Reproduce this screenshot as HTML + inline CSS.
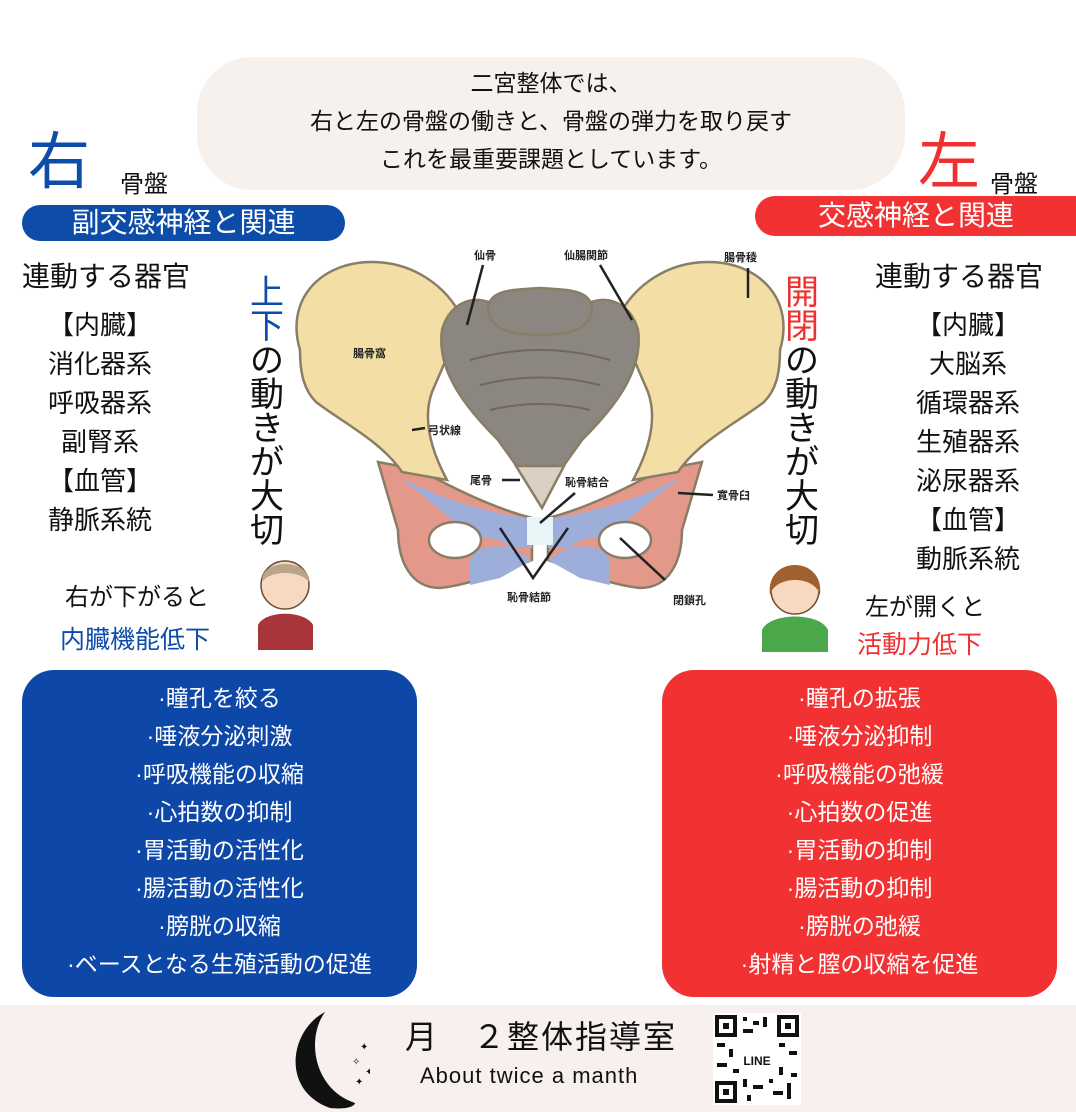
<!DOCTYPE html>
<html><head><meta charset="utf-8">
<style>
*{margin:0;padding:0;box-sizing:border-box}
body{width:1076px;height:1112px;background:#fff;position:relative;overflow:hidden;font-family:"Liberation Sans","Noto Sans CJK JP",sans-serif;color:#111}
.a{position:absolute;white-space:nowrap}
.bubble{position:absolute;left:197px;top:57px;width:708px;height:133px;background:#f7f1ee;border-radius:55px;text-align:center;font-size:23px;line-height:38px;padding-top:7px}
.pill{position:absolute;height:36px;border-radius:18px;color:#fff;font-size:28px;line-height:36px;text-align:center}
.list{position:absolute;text-align:center;font-size:26px;line-height:39px}
.vert{position:absolute;font-size:34px;line-height:34px;width:40px;text-align:center}
.box{position:absolute;top:670px;width:395px;height:327px;border-radius:32px;color:#fff;text-align:center;font-size:23px;line-height:38px;padding-top:9px}
.blue{color:#0d4ca8}.red{color:#ee3030}
</style></head><body>
<div class="bubble">二宮整体では、<br>右と左の骨盤の働きと、骨盤の弾力を取り戻す<br>これを最重要課題としています。</div>

<div class="a blue" style="left:28px;top:128px;font-size:62px;line-height:70px">右</div>
<div class="a" style="left:120px;top:164px;font-size:24px">骨盤</div>
<div class="pill" style="left:22px;top:205px;width:323px;background:#0d4ca8">副交感神経と関連</div>
<div class="a" style="left:22px;top:255px;font-size:28px">連動する器官</div>
<div class="list" style="left:20px;top:306px;width:160px">【内臓】<br>消化器系<br>呼吸器系<br>副腎系<br>【血管】<br>静脈系統</div>
<div class="vert" style="left:247px;top:276px"><span class="blue">上<br>下</span><br>の<br>動<br>き<br>が<br>大<br>切</div>

<div class="a red" style="left:918px;top:128px;font-size:62px;line-height:70px">左</div>
<div class="a" style="left:990px;top:164px;font-size:24px">骨盤</div>
<div class="pill" style="left:755px;top:196px;width:340px;background:#f23232;height:40px;line-height:40px;border-radius:20px;padding-right:18px">交感神経と関連</div>
<div class="a" style="left:875px;top:255px;font-size:28px">連動する器官</div>
<div class="list" style="left:888px;top:306px;width:160px">【内臓】<br>大脳系<br>循環器系<br>生殖器系<br>泌尿器系<br>【血管】<br>動脈系統</div>
<div class="vert" style="left:782px;top:276px"><span class="red">開<br>閉</span><br>の<br>動<br>き<br>が<br>大<br>切</div>

<div class="a" style="left:65px;top:577px;font-size:24px">右が下がると</div>
<div class="a blue" style="left:60px;top:620px;font-size:25px">内臓機能低下</div>
<div class="a" style="left:865px;top:587px;font-size:24px">左が開くと</div>
<div class="a red" style="left:857px;top:625px;font-size:25px">活動力低下</div>

<svg class="a" style="left:0;top:0" width="1076" height="1112" viewBox="0 0 1076 1112">
<g stroke="#8a7d66" stroke-width="2.5">
<path d="M378,462 L420,470 C460,492 500,510 532,518 L532,560 C500,572 470,585 440,588 C410,588 398,560 398,530 Z" fill="#e3988a"/>
<path d="M702,462 L660,470 C620,492 580,510 548,518 L548,560 C580,572 610,585 640,588 C670,588 682,560 682,530 Z" fill="#e3988a"/>
<path d="M400,480 C440,500 490,515 532,518 L532,548 C505,548 480,540 470,560 L470,585 L500,578 L532,560" fill="#9eaedb" stroke="none"/>
<path d="M680,480 C640,500 590,515 548,518 L548,548 C575,548 600,540 610,560 L610,585 L580,578 L548,560" fill="#9eaedb" stroke="none"/>
<path d="M402,478 C440,500 490,512 532,520 L532,545 L470,535 Z" fill="#9eaedb" stroke="none"/>
<path d="M678,478 C640,500 590,512 548,520 L548,545 L610,535 Z" fill="#9eaedb" stroke="none"/>
<ellipse cx="455" cy="540" rx="26" ry="18" fill="#fff"/>
<ellipse cx="625" cy="540" rx="26" ry="18" fill="#fff"/>
<rect x="527" y="517" width="26" height="28" fill="#e8f4f5" stroke="none"/>
<path d="M300,350 C285,300 320,262 372,262 C412,262 447,285 463,320 L432,392 C422,420 432,452 447,480 L402,472 C382,442 342,422 316,402 C302,388 300,368 300,350 Z" fill="#f3dfa6"/>
<path d="M780,350 C795,300 760,262 708,262 C668,262 633,285 617,320 L648,392 C658,420 648,452 633,480 L678,472 C698,442 738,422 764,402 C778,388 780,368 780,350 Z" fill="#f3dfa6"/>
<path d="M442,330 C450,300 478,292 500,308 L580,308 C602,292 630,300 638,330 C644,372 612,410 582,440 L562,468 L518,468 L498,440 C468,410 436,372 442,330 Z" fill="#8c8681"/>
<path d="M488,308 C490,290 510,290 540,288 C570,290 590,290 592,308 C590,330 570,335 540,335 C510,335 490,330 488,308Z" fill="#8c8681"/>
<path d="M516,466 L564,466 L542,508 Z" fill="#dbd1c2"/>
</g>
<g><path d="M470,360 Q540,340 610,360" stroke="#6f6660" stroke-width="2" fill="none"/><path d="M480,385 Q540,370 600,385" stroke="#6f6660" stroke-width="2" fill="none"/><path d="M490,410 Q540,398 590,410" stroke="#6f6660" stroke-width="2" fill="none"/></g>
<g stroke="#222" stroke-width="2.5" fill="none">
<line x1="483" y1="265" x2="467" y2="325"/><line x1="600" y1="265" x2="632" y2="320"/><line x1="748" y1="268" x2="748" y2="298"/>
<line x1="412" y1="430" x2="425" y2="428"/><line x1="502" y1="480" x2="520" y2="480"/><line x1="575" y1="493" x2="540" y2="523"/>
<line x1="678" y1="493" x2="713" y2="495"/><path d="M500,528 L533,578 L568,528"/><line x1="620" y1="538" x2="665" y2="580"/>
</g>
<g font-size="11" font-weight="bold" fill="#222" font-family="Liberation Sans,Noto Sans CJK JP,sans-serif">
<text x="474" y="259">仙骨</text><text x="564" y="259">仙腸関節</text><text x="724" y="261">腸骨稜</text>
<text x="353" y="357">腸骨窩</text><text x="428" y="434">弓状線</text><text x="470" y="484">尾骨</text>
<text x="565" y="486">恥骨結合</text><text x="717" y="499">寛骨臼</text><text x="507" y="601">恥骨結節</text><text x="673" y="604">閉鎖孔</text>
</g>
<g>
<path d="M258,650 L258,625 C265,610 305,610 313,625 L313,650Z" fill="#a8353a"/>
<circle cx="285" cy="585" r="24" fill="#f7d8c0" stroke="#6a4a30" stroke-width="1.5"/>
<path d="M262,582 C260,558 310,558 309,582 C300,570 270,570 262,582Z" fill="#b8a58a"/>
<path d="M762,652 L762,630 C770,612 820,612 828,630 L828,652Z" fill="#4aa84a"/>
<circle cx="795" cy="590" r="24" fill="#f7d8c0" stroke="#6a4a30" stroke-width="1.5"/>
<path d="M770,595 C765,555 825,555 820,595 C815,575 775,575 770,595Z" fill="#a0602f"/>
</g>
</svg>

<div class="box" style="left:22px;background:#0d47a8">·瞳孔を絞る<br>·唾液分泌刺激<br>·呼吸機能の収縮<br>·心拍数の抑制<br>·胃活動の活性化<br>·腸活動の活性化<br>·膀胱の収縮<br>·ベースとなる生殖活動の促進</div>
<div class="box" style="left:662px;background:#f23232">·瞳孔の拡張<br>·唾液分泌抑制<br>·呼吸機能の弛緩<br>·心拍数の促進<br>·胃活動の抑制<br>·腸活動の抑制<br>·膀胱の弛緩<br>·射精と膣の収縮を促進</div>

<div style="position:absolute;left:0;top:1005px;width:1076px;height:107px;background:#f7f0ee"></div>
<svg class="a" style="left:280px;top:1008px" width="90" height="104"><path d="M45,4 C10,22 0,82 50,100 C70,102 75,97 75,95 C35,82 25,32 45,4Z" fill="#111"/><g fill="#111" font-size="10"><text x="80" y="42">✦</text><text x="85" y="67">✦</text><text x="72" y="57">✧</text><text x="75" y="77">✦</text></g></svg>
<div class="a" style="left:405px;top:1017px;font-size:32px;line-height:40px;letter-spacing:2px">月　２整体指導室</div>
<div class="a" style="left:420px;top:1062px;font-size:22px;line-height:28px;letter-spacing:1px">About twice a manth</div>
<svg class="a" style="left:713px;top:1013px" width="88" height="92">
<rect width="88" height="92" fill="#fff"/>
<g fill="#111"><rect x="2" y="2" width="22" height="22"/><rect x="64" y="2" width="22" height="22"/><rect x="2" y="68" width="22" height="22"/></g>
<g fill="#fff"><rect x="6" y="6" width="14" height="14"/><rect x="68" y="6" width="14" height="14"/><rect x="6" y="72" width="14" height="14"/></g>
<g fill="#111"><rect x="10" y="10" width="6" height="6"/><rect x="72" y="10" width="6" height="6"/><rect x="10" y="76" width="6" height="6"/>
<rect x="30" y="4" width="4" height="4"/><rect x="40" y="8" width="6" height="4"/><rect x="50" y="4" width="4" height="10"/><rect x="30" y="16" width="10" height="4"/>
<rect x="4" y="30" width="8" height="4"/><rect x="16" y="36" width="4" height="8"/><rect x="4" y="50" width="10" height="4"/><rect x="20" y="56" width="6" height="4"/>
<rect x="66" y="30" width="6" height="4"/><rect x="76" y="38" width="8" height="4"/><rect x="66" y="54" width="4" height="8"/><rect x="78" y="60" width="6" height="4"/>
<rect x="30" y="66" width="4" height="8"/><rect x="40" y="72" width="10" height="4"/><rect x="56" y="66" width="4" height="4"/><rect x="60" y="78" width="10" height="4"/><rect x="34" y="82" width="4" height="6"/><rect x="74" y="70" width="4" height="16"/></g>
<text x="44" y="52" font-size="12" font-weight="bold" text-anchor="middle" fill="#111" font-family="Liberation Sans,sans-serif">LINE</text>
</svg>
</body></html>
